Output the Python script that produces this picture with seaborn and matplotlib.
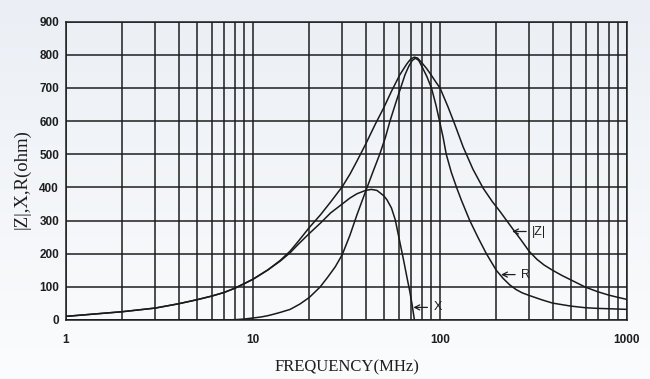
import numpy as np
import pandas as pd
import matplotlib
matplotlib.use("Agg")
import matplotlib.pyplot as plt
from matplotlib.ticker import LogLocator, FixedLocator, FixedFormatter, NullFormatter
from matplotlib.colors import LinearSegmentedColormap
import seaborn as sns

# ---- data ----
z_freq = [1, 2, 3, 4, 5, 6, 7, 8, 9, 10, 12, 14, 15.8, 17.5, 20, 23, 26, 30, 33, 36, 40, 45, 50, 55, 61, 66, 68, 70, 73, 76, 80, 85, 90, 95, 100, 110, 120, 133, 150, 170, 190, 209, 250, 270, 300, 330, 360, 400, 450, 505, 600, 700, 800, 900, 1000]
z_vals = [11, 25, 36, 49, 61, 72, 83, 96, 110, 123, 151, 180, 208, 238, 279, 318, 356, 402, 440, 480, 530, 590, 640, 690, 740, 770, 780, 788, 793, 790, 776, 758, 738, 718, 700, 645, 590, 522, 455, 398, 358, 328, 268, 243, 207, 183, 166, 150, 134, 120, 99, 85, 75, 68, 62]

r_freq = [1, 3, 5, 7, 8, 9, 10, 11, 12, 13, 14, 15.8, 17.8, 20, 22.8, 25, 27.5, 30, 33, 36, 40, 44, 47.6, 51, 54, 58, 62, 65, 68, 71, 74, 77, 80, 85, 90, 95, 99, 104, 108, 115, 123, 130, 144, 160, 177, 200, 218, 236, 255, 275, 300, 350, 400, 500, 600, 700, 800, 1000]
r_vals = [0, 0, 0, 0, 1, 3, 6, 9, 13, 18, 23, 32, 48, 68, 99, 128, 160, 197, 256, 318, 388, 450, 500, 550, 600, 655, 705, 740, 765, 783, 790, 783, 765, 735, 700, 650, 605, 550, 500, 445, 398, 362, 301, 248, 200, 150, 125, 106, 92, 82, 74, 61, 51, 42, 37, 35, 34, 32]

x_freq = [1, 2, 3, 4, 5, 6, 7, 8, 9, 10, 12, 14, 15.8, 17.5, 20, 23, 26, 30, 33, 36, 40, 43, 46, 50, 52, 55, 57.6, 61, 64, 66.5, 69, 70.8, 72, 73]
x_vals = [11, 25, 36, 49, 61, 72, 83, 96, 110, 123, 151, 178, 203, 229, 261, 293, 323, 350, 368, 381, 391, 394, 391, 375, 363, 338, 303, 235, 178, 130, 85, 49, 22, 0]

y_ticks = [0, 100, 200, 300, 400, 500, 600, 700, 800, 900]
x_ticks = [1, 10, 100, 1000]
x_tick_labels = ["1", "10", "100", "1000"]

curve_labels = ["|Z|", "R", "X"]
label_anchor_freq = [243, 212, 72]   # freq where each arrow points
label_anchor_val = [267, 137, 38]

# ---- figure ----
sns.set_theme(style="white")
plt.rcParams["font.family"] = ["Liberation Sans", "DejaVu Sans"]

fig = plt.figure(figsize=(6.5, 3.79), dpi=100)

# soft background gradient
bg = fig.add_axes([0, 0, 1, 1], zorder=-10)
grad = np.linspace(0, 1, 256).reshape(-1, 1)
cmap = LinearSegmentedColormap.from_list("bg", ["#ebeff5", "#fbfcfd"])
bg.imshow(grad, aspect="auto", cmap=cmap, extent=[0, 1, 0, 1])
bg.set_axis_off()

ax = fig.add_axes([66 / 650, 1 - 320 / 379, (627 - 66) / 650, (320 - 21.7) / 379])
ax.set_facecolor("none")

for fr, vals in [(z_freq, z_vals), (r_freq, r_vals), (x_freq, x_vals)]:
    df = pd.DataFrame({"f": fr, "v": vals})
    sns.lineplot(data=df, x="f", y="v", ax=ax, color="#1a1a1a", linewidth=1.1, sort=False)

ax.set_xscale("log")
ax.set_xlim(1, 1000)
ax.set_ylim(0, 900)
ax.xaxis.set_major_locator(FixedLocator(x_ticks))
ax.xaxis.set_major_formatter(FixedFormatter(x_tick_labels))
ax.xaxis.set_minor_locator(LogLocator(base=10, subs=np.arange(2, 10)))
ax.xaxis.set_minor_formatter(NullFormatter())
ax.yaxis.set_major_locator(FixedLocator(y_ticks))

ax.grid(which="both", axis="both", color="#1e1e1e", linewidth=1.1)
for s in ax.spines.values():
    s.set_color("#1e1e1e")
    s.set_linewidth(1.1)

ax.tick_params(axis="both", which="both", length=0)
ax.tick_params(axis="x", pad=10, labelsize=8.5, labelcolor="#1e1e1e")
ax.tick_params(axis="y", pad=5, labelsize=8.5, labelcolor="#1e1e1e")
for t in ax.get_xticklabels() + ax.get_yticklabels():
    t.set_fontweight("bold")

ax.set_xlabel("FREQUENCY(MHz)", family=["Liberation Serif", "DejaVu Serif"], fontsize=12,
              color="#1e1e1e", va="center")
ax.set_ylabel("|Z|,X,R(ohm)", family=["Liberation Serif", "DejaVu Serif"], fontsize=13.5,
              color="#1e1e1e", va="center")
ax.xaxis.set_label_coords(0.501, -0.159)
ax.yaxis.set_label_coords(-0.079, 0.474)

for lab, fx, fy in zip(curve_labels, label_anchor_freq, label_anchor_val):
    ax.annotate(lab, xy=(fx, fy), xytext=(14.5, 0), textcoords="offset points",
                ha="left", va="center", fontsize=9, color="#1e1e1e",
                arrowprops=dict(arrowstyle="->", color="#1e1e1e", lw=0.9,
                                shrinkA=2, shrinkB=0))

fig.savefig("out.png", dpi=100)
